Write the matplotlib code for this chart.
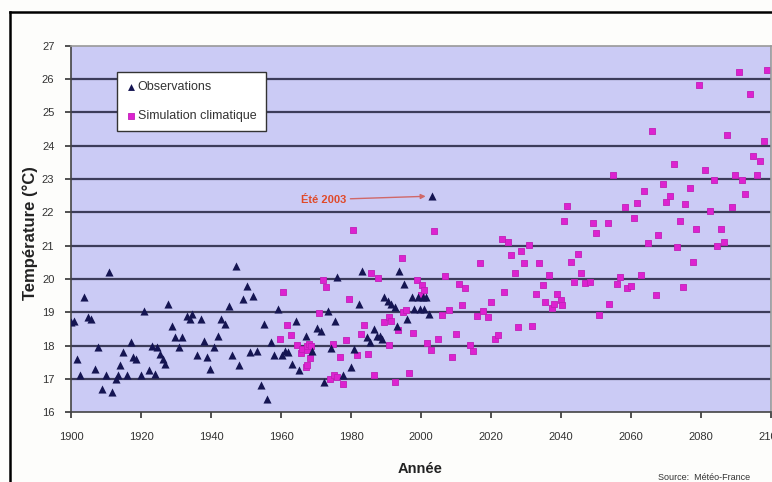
import matplotlib
matplotlib.use("Agg")
import matplotlib.pyplot as plt
from matplotlib.lines import Line2D

# Observations (navy triangles)
obs_years = [1900.0, 1900.8, 1901.6, 1902.6, 1903.8, 1904.8, 1905.8, 1906.9, 1907.8, 1908.8,
             1909.9, 1910.8, 1911.8, 1912.8, 1913.4, 1913.9, 1914.9, 1916.0, 1917.0, 1917.8,
             1918.5, 1919.9, 1920.8, 1922.2, 1923.1, 1924.1, 1924.7, 1925.4, 1926.2, 1926.8,
             1927.7, 1928.7, 1929.7, 1930.8, 1931.8, 1933.0, 1933.9, 1934.6, 1936.0, 1937.0,
             1938.0, 1938.9, 1939.8, 1940.8, 1942.0, 1942.9, 1943.9, 1945.1, 1946.0, 1947.1,
             1948.1, 1949.0, 1950.2, 1951.2, 1952.1, 1953.1, 1954.2, 1955.2, 1956.1, 1957.1,
             1958.1, 1959.2, 1960.2, 1961.1, 1962.1, 1963.0, 1964.2, 1965.2, 1967.1, 1968.9,
             1970.3, 1971.3, 1972.2, 1973.4, 1974.2, 1975.3, 1976.1, 1977.7, 1979.9, 1980.9,
             1982.2, 1983.2, 1984.5, 1985.4, 1986.4, 1987.3, 1988.3, 1988.8, 1989.3, 1990.5,
             1991.5, 1992.5, 1993.0, 1993.8, 1995.1, 1996.1, 1997.4, 1998.1, 1999.0, 1999.8,
             2000.5, 2000.7, 2001.4, 2002.3, 2003.1]
obs_temps = [18.7, 18.75, 17.6, 17.1, 19.45, 18.85, 18.8, 17.3, 17.95, 16.7,
             17.1, 20.2, 16.6, 17.0, 17.1, 17.4, 17.8, 17.1, 18.1, 17.65,
             17.6, 17.1, 19.05, 17.25, 18.0, 17.15, 17.95, 17.75, 17.6, 17.45,
             19.25, 18.6, 18.25, 17.95, 18.25, 18.9, 18.8, 18.95, 17.7, 18.8,
             18.15, 17.65, 17.3, 17.95, 18.3, 18.8, 18.65, 19.2, 17.7, 20.4,
             17.4, 19.4, 19.8, 17.8, 19.5, 17.85, 16.8, 18.65, 16.4, 18.1,
             17.7, 19.1, 17.7, 17.85, 17.8, 17.45, 18.75, 17.25, 18.28, 17.85,
             18.52, 18.45, 16.9, 19.05, 17.92, 18.75, 20.05, 17.1, 17.35, 17.9,
             19.25, 20.25, 18.25, 18.1, 18.5, 18.3, 18.3, 18.2, 19.45, 19.35,
             19.25, 19.15, 18.6, 20.25, 19.85, 18.8, 19.45, 19.1, 19.45, 19.1,
             19.45, 19.1, 19.45, 18.95, 22.5]

# Climate simulation (magenta squares)
sim_years = [1959.7, 1960.5, 1961.6, 1962.8, 1964.5, 1965.6, 1965.9, 1967.0, 1967.3, 1967.4,
             1967.5, 1968.0, 1968.3, 1968.6, 1970.9, 1971.9, 1972.9, 1974.0, 1974.9, 1975.0,
             1975.9, 1976.9, 1977.6, 1978.6, 1979.5, 1980.6, 1981.6, 1982.8, 1983.7, 1984.7,
             1985.6, 1986.6, 1987.8, 1989.4, 1990.7, 1990.8, 1991.5, 1992.6, 1993.5, 1994.5,
             1994.9, 1995.6, 1996.6, 1997.8, 1998.8, 2000.0, 2000.2, 2000.9, 2001.6, 2002.9,
             2003.8, 2004.8, 2005.9, 2006.7, 2008.0, 2008.9, 2009.9, 2010.9, 2011.6, 2012.6,
             2014.0, 2014.9, 2015.9, 2016.9, 2017.8, 2019.0, 2020.0, 2021.1, 2021.9, 2023.2,
             2023.8, 2024.9, 2025.7, 2026.7, 2027.6, 2028.6, 2029.5, 2030.7, 2031.6, 2032.8,
             2033.7, 2034.7, 2035.4, 2036.6, 2037.3, 2038.0, 2038.8, 2039.9, 2040.2, 2040.7,
             2041.8, 2042.7, 2043.7, 2044.7, 2045.6, 2046.9, 2048.1, 2049.0, 2050.0, 2050.7,
             2053.4, 2053.8, 2054.8, 2055.9, 2056.9, 2058.1, 2058.8, 2059.9, 2060.9, 2061.8,
             2062.8, 2063.7, 2064.7, 2065.9, 2067.1, 2067.8, 2069.0, 2070.0, 2071.0, 2072.1,
             2073.1, 2074.0, 2074.8, 2075.4, 2076.7, 2077.6, 2078.6, 2079.5, 2081.1, 2082.6,
             2083.7, 2084.5, 2085.6, 2086.6, 2087.5, 2088.8, 2089.7, 2090.9, 2091.6, 2092.6,
             2093.8, 2094.8, 2095.9, 2096.7, 2097.8, 2098.8]
sim_temps = [18.21, 19.62, 18.61, 18.31, 18.01, 17.76, 17.91, 17.36, 17.41, 17.86,
             18.0, 18.05, 17.61, 18.0, 18.97, 19.97, 19.77, 17.0, 18.06, 17.1,
             17.05, 17.66, 16.84, 18.16, 19.39, 21.47, 17.71, 18.36, 18.61, 17.74,
             20.19, 17.11, 20.02, 18.71, 18.01, 18.85, 18.75, 16.91, 18.46, 20.62,
             19.01, 19.07, 17.18, 18.38, 19.97, 19.52, 19.82, 19.67, 18.08, 17.88,
             21.45, 18.21, 18.92, 20.09, 19.07, 17.64, 18.34, 19.85, 19.22, 19.72,
             18.01, 17.84, 18.88, 20.49, 19.05, 18.85, 19.32, 18.21, 18.31, 21.19,
             19.62, 21.12, 20.72, 20.17, 18.55, 20.85, 20.49, 21.02, 18.6, 19.55,
             20.49, 19.82, 19.32, 20.12, 19.12, 19.25, 19.55, 19.37, 19.22, 21.75,
             22.19, 20.52, 19.92, 20.75, 20.19, 19.89, 19.92, 21.67, 21.39, 18.92,
             21.67, 19.25, 23.12, 19.85, 20.05, 22.15, 19.72, 19.79, 21.82, 22.29,
             20.12, 22.65, 21.07, 24.45, 19.52, 21.32, 22.85, 22.32, 22.49, 23.45,
             20.97, 21.75, 19.75, 22.25, 22.72, 20.52, 21.5, 25.83, 23.27, 22.05,
             22.97, 20.99, 21.5, 21.12, 24.32, 22.15, 23.12, 26.2, 22.97, 22.55,
             25.56, 23.69, 23.12, 23.55, 24.15, 26.26]

x_ticks = list(range(1900, 2101, 20))
y_ticks = list(range(16, 28))

plt.rcParams['font.family'] = ['Liberation Sans', 'DejaVu Sans']

fig = plt.figure(figsize=(7.72, 4.82), dpi=100)
fig.patch.set_facecolor('#fdfdfb')
ax = fig.add_axes([0.092, 0.145, 0.907, 0.76])
ax.set_facecolor('#cbcbf5')

for t in y_ticks[1:-1]:
    ax.axhline(t, color='#3c3c5a', linewidth=1.6, zorder=1)

ax.scatter(obs_years, obs_temps, marker='^', s=34, color='#151552', zorder=3,
           label='Observations', linewidths=0)
ax.scatter(sim_years, sim_temps, marker='s', s=24, color='#dd22d0', zorder=2,
           label='Simulation climatique', linewidths=0.6, edgecolors='#c020b8')

ax.annotate('Été 2003', xy=(2001.3, 22.48), xytext=(1978.6, 22.38),
            ha='right', va='center', color='#e04a2a', fontsize=8, fontweight='bold',
            arrowprops=dict(arrowstyle='-|>', color='#d06868', lw=1.0,
                            mutation_scale=7, shrinkA=1, shrinkB=0))

ax.set_xlim(1900, 2100)
ax.set_ylim(16, 27)
ax.set_xticks(x_ticks)
ax.set_yticks(y_ticks)
ax.tick_params(axis='both', labelsize=8, colors='#333333', length=4, width=1.2,
               direction='out')
ax.tick_params(axis='x', pad=10)
ax.tick_params(axis='y', pad=8)
for name, sp in ax.spines.items():
    sp.set_color('#999999' if name in ('top', 'right') else '#444444')
    sp.set_linewidth(1.2)

leg = ax.legend(loc='upper left', bbox_to_anchor=(0.065, 0.929), borderaxespad=0,
                fontsize=9, frameon=True, fancybox=False, edgecolor='#333333',
                framealpha=1, handletextpad=0.15, handlelength=0.8, borderpad=0.75,
                labelspacing=1.35, markerscale=0.85)
leg.get_frame().set_linewidth(1.0)
for txt in leg.get_texts():
    txt.set_color('#333333')

fig.text(0.039, 0.516, 'Température (°C)', rotation=90, ha='center', va='center',
         fontsize=12, fontweight='bold', color='#222222')
fig.text(0.544, 0.028, 'Année', ha='center', va='center', fontsize=10.5,
         fontweight='bold', color='#222222')
fig.text(0.912, 0.01, 'Source:  Météo-France', ha='center', va='center', fontsize=6.5,
         color='#333333')

# outer black frame of the original figure
fig.add_artist(Line2D([0.013, 0.013], [0, 0.975], transform=fig.transFigure,
                      color='black', linewidth=1.8))
fig.add_artist(Line2D([0.013, 1.0], [0.975, 0.975], transform=fig.transFigure,
                      color='black', linewidth=1.8))

fig.savefig('out.png', dpi=100)
